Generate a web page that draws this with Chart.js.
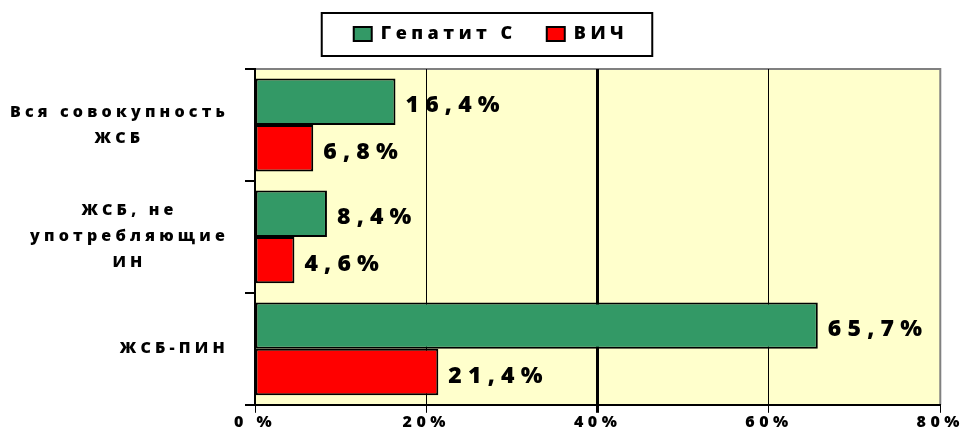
<!DOCTYPE html>
<html>
<head>
<meta charset="utf-8">
<script src="https://cdn.jsdelivr.net/npm/chart.js@4/dist/chart.umd.min.js"></script>
<style>
  html, body { margin: 0; padding: 0; background: #fff; }
  #wrap { width: 964px; height: 441px; }
</style>
</head>
<body>
<div id="wrap"><canvas id="myChart"></canvas></div>
<script>
// data
const categories = [['Вся совокупность', 'ЖСБ'], ['ЖСБ, не', 'употребляющие', 'ИН'], 'ЖСБ-ПИН'];
const hepatitisC = [16.4, 8.4, 65.7];
const hiv = [6.8, 4.6, 21.4];
const xTicks = [0, 20, 40, 60, 80];

const FONT = '"Open Sans", sans-serif';
const SPACING = '4.5px';

// letter spacing like the original (canvas letterSpacing)
const spacing = {
  id: 'spacing',
  afterInit(chart) {
    // leave room under the legend, the plot starts lower in the original
    const lg = chart.legend;
    const fit = lg.fit.bind(lg);
    lg.fit = function () { fit(); this.height = 74; };
  },
  beforeUpdate(chart) { chart.ctx.letterSpacing = SPACING; },
  beforeLayout(chart) { chart.ctx.letterSpacing = SPACING; },
  beforeDraw(chart) { chart.ctx.letterSpacing = SPACING; }
};

// plot area background + grey top/right frame + legend frame
const plotArea = {
  id: 'plotArea',
  beforeDraw(chart) {
    const { ctx, chartArea: a } = chart;
    ctx.save();
    ctx.fillStyle = '#FFFFCC';
    ctx.fillRect(a.left, a.top, a.right - a.left, a.bottom - a.top);
    ctx.strokeStyle = '#808080';
    ctx.lineWidth = 2;
    ctx.beginPath();
    ctx.moveTo(a.left, a.top);
    ctx.lineTo(a.right, a.top);
    ctx.lineTo(a.right, a.bottom);
    ctx.stroke();
    ctx.restore();
  },
  afterDraw(chart) {
    const hb = chart.legend.legendHitBoxes;
    if (!hb || !hb.length) return;
    const first = hb[0], last = hb[hb.length - 1];
    const cy = first.top + first.height / 2;
    const ctx = chart.ctx;
    ctx.save();
    ctx.strokeStyle = '#000';
    ctx.lineWidth = 2;
    const l = first.left - 32, r = last.left + last.width + 24;
    ctx.strokeRect(l, cy - 21, r - l, 43);
    ctx.restore();
  }
};

// category labels: block right aligned, lines centred inside the block
const catLabels = {
  id: 'catLabels',
  afterDraw(chart) {
    const ctx = chart.ctx;
    const sc = chart.scales.y;
    const lh = 26;
    ctx.save();
    ctx.letterSpacing = '4.2px';
    ctx.font = '800 16px ' + FONT;
    ctx.fillStyle = '#000';
    ctx.textAlign = 'center';
    ctx.textBaseline = 'middle';
    chart.data.labels.forEach((lab, i) => {
      const lines = Array.isArray(lab) ? lab : [lab];
      const w = Math.max(...lines.map(s => ctx.measureText(s).width));
      const cx = sc.left + sc.width - 28 - w / 2;
      const yc = sc.getPixelForTick(i);
      lines.forEach((s, k) => {
        ctx.fillText(s, cx + 2, yc - (lines.length - 1) * lh / 2 + k * lh);
      });
    });
    ctx.restore();
  }
};

// value labels to the right of each bar
const valueLabels = {
  id: 'valueLabels',
  afterDatasetsDraw(chart) {
    const ctx = chart.ctx;
    ctx.save();
    ctx.letterSpacing = '6.2px';
    ctx.font = '800 23px ' + FONT;
    ctx.fillStyle = '#000';
    ctx.textAlign = 'left';
    ctx.textBaseline = 'middle';
    chart.data.datasets.forEach((ds, i) => {
      chart.getDatasetMeta(i).data.forEach((bar, j) => {
        const txt = ds.data[j].toFixed(1).replace('.', ',') + '%';
        ctx.fillText(txt, bar.x + 10, bar.y + 4);
      });
    });
    ctx.restore();
  }
};

const ctx = document.getElementById('myChart').getContext('2d');
const myChart = new Chart(ctx, {
  type: 'bar',
  data: {
    labels: categories,
    datasets: [{
      label: 'Гепатит С',
      data: hepatitisC,
      backgroundColor: '#339966',
      borderColor: '#000',
      borderWidth: 2,
      borderSkipped: false
    }, {
      label: 'ВИЧ',
      data: hiv,
      backgroundColor: '#FF0000',
      borderColor: '#000',
      borderWidth: 2,
      borderSkipped: false
    }]
  },
  options: {
    indexAxis: 'y',
    responsive: true,
    maintainAspectRatio: false,
    animation: false,
    layout: { padding: { top: -5, right: 2, left: 20, bottom: 9 } },
    datasets: { bar: { categoryPercentage: 0.83, barPercentage: 1 } },
    plugins: {
      tooltip: { enabled: false },
      legend: {
        position: 'top',
        labels: {
          color: '#000',
          font: { family: FONT, size: 18, weight: 800 },
          boxWidth: 18,
          boxHeight: 14,
          padding: 30
        }
      }
    },
    scales: {
      x: {
        min: 0,
        max: 80,
        afterBuildTicks(scale) { scale.ticks = xTicks.map(v => ({ value: v })); },
        border: { color: '#000', width: 2 },
        grid: {
          color: c => c.tick && c.tick.value === 80 ? '#808080' : '#000',
          lineWidth: c => c.tick && c.tick.value === 40 ? 3 : 1,
          tickColor: '#000',
          tickLength: 8,
          drawOnChartArea: true
        },
        ticks: {
          color: '#000',
          padding: 0,
          font: { family: FONT, size: 16, weight: 800 },
          callback: v => v === 0 ? '0 %' : v + '%'
        }
      },
      y: {
        border: { color: '#000', width: 2 },
        grid: { drawOnChartArea: false, tickColor: '#000', tickLength: 10, lineWidth: 2 },
        afterFit(scale) { scale.width = 235; },
        ticks: { display: false }
      }
    }
  },
  plugins: [spacing, plotArea, catLabels, valueLabels]
});
</script>
</body>
</html>
